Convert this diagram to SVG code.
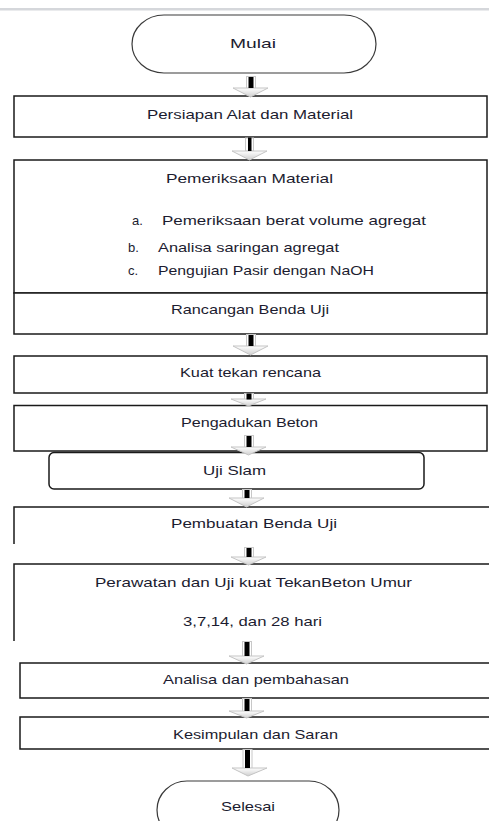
<svg xmlns="http://www.w3.org/2000/svg" width="489" height="821" viewBox="0 0 489 821">
<defs>
<linearGradient id="hg" x1="0" y1="0" x2="0" y2="1">
<stop offset="0" stop-color="#ffffff"/>
<stop offset="1" stop-color="#cfcfcf"/>
</linearGradient>
<style>
.box{fill:#fff;stroke:#1a1a1a;stroke-width:1.5}
.ln{fill:none;stroke:#1a1a1a;stroke-width:1.5}
.term{fill:#fff;stroke:#3a3a3a;stroke-width:1.2}
.t{font-family:"Liberation Sans",Arial,sans-serif;font-size:13px;fill:#1c1c30;text-anchor:middle}
.ts{font-family:"Liberation Sans",Arial,sans-serif;font-size:13px;fill:#1c1c30}
.shaft{fill:#000}
.sout{fill:none;stroke:#c8c8c8;stroke-width:1}
.head{fill:url(#hg);stroke:#c4c4c4;stroke-width:1}
</style>
</defs>
<rect x="0" y="0" width="489" height="821" fill="#fff"/>
<rect x="0" y="8" width="489" height="2.5" fill="#d5d7db"/>

<g id="mulai">
<rect class="term" x="132" y="15" width="244" height="58" rx="32" ry="29"/>
<text class="t" x="253" y="48" textLength="46" lengthAdjust="spacingAndGlyphs">Mulai</text>
</g>
<g id="persiapan">
<rect class="box" x="14" y="96" width="473" height="41"/>
<text class="t" x="250" y="119" textLength="206" lengthAdjust="spacingAndGlyphs">Persiapan Alat dan Material</text>
</g>
<g id="pemeriksaan">
<rect class="box" x="14" y="160" width="473" height="133"/>
<text class="t" x="249.5" y="183" textLength="167" lengthAdjust="spacingAndGlyphs">Pemeriksaan  Material</text>
<text class="ts" x="132" y="225">a.</text>
<text class="ts" x="162" y="225" textLength="264" lengthAdjust="spacingAndGlyphs">Pemeriksaan berat  volume agregat</text>
<text class="ts" x="128" y="252">b.</text>
<text class="ts" x="158" y="252" textLength="181" lengthAdjust="spacingAndGlyphs">Analisa saringan agregat</text>
<text class="ts" x="128" y="275">c.</text>
<text class="ts" x="158" y="275" textLength="216" lengthAdjust="spacingAndGlyphs">Pengujian Pasir dengan NaOH</text>
</g>
<g id="rancangan">
<rect class="box" x="14" y="293" width="473" height="41"/>
<text class="t" x="250" y="314" textLength="158" lengthAdjust="spacingAndGlyphs">Rancangan Benda Uji</text>
</g>
<g id="kuat">
<rect class="box" x="14" y="356" width="473" height="37"/>
<text class="t" x="250.5" y="377" textLength="141" lengthAdjust="spacingAndGlyphs">Kuat tekan rencana</text>
</g>
<g id="pengadukan">
<rect class="box" x="14" y="405.5" width="473" height="45.5"/>
<text class="t" x="249.5" y="427" textLength="137" lengthAdjust="spacingAndGlyphs">Pengadukan Beton</text>
</g>
<g id="ujislam">
<rect class="box" x="49" y="452.5" width="375" height="36.5" rx="5" ry="5"/>
<text class="t" x="234.5" y="475" textLength="63" lengthAdjust="spacingAndGlyphs">Uji Slam</text>
</g>
<g id="pembuatan">
<path class="ln" d="M14 544 V507 H490"/>
<text class="t" x="254" y="528" textLength="166" lengthAdjust="spacingAndGlyphs">Pembuatan  Benda Uji</text>
</g>
<g id="perawatan">
<path class="ln" d="M14 641 V564 H490"/>
<text class="t" x="253.5" y="587" textLength="317" lengthAdjust="spacingAndGlyphs">Perawatan  dan Uji kuat TekanBeton Umur</text>
<text class="t" x="252.5" y="626" textLength="139" lengthAdjust="spacingAndGlyphs">3,7,14, dan 28 hari</text>
</g>
<g id="analisa">
<path class="ln" d="M490 663 H20 V698 H490"/>
<text class="t" x="256" y="684" textLength="186" lengthAdjust="spacingAndGlyphs">Analisa dan pembahasan</text>
</g>
<g id="kesimpulan">
<path class="ln" d="M490 717 H20 V749 H490"/>
<text class="t" x="255.5" y="739" textLength="165" lengthAdjust="spacingAndGlyphs">Kesimpulan dan Saran</text>
</g>
<g id="selesai">
<rect class="term" x="157" y="781" width="182" height="58" rx="30" ry="29"/>
<text class="t" x="248" y="811" textLength="54" lengthAdjust="spacingAndGlyphs">Selesai</text>
</g>

<g id="connectors">
<g><rect class="sout" x="246.5" y="76.5" width="9" height="12"/><polygon class="head" points="233,88 268,88 250.5,97"/><rect class="shaft" x="248.5" y="77" width="5" height="11"/></g>
<g><rect class="sout" x="245.5" y="138" width="8" height="13"/><polygon class="head" points="232,151 267,151 249.5,160"/><rect class="shaft" x="248" y="137.5" width="3.5" height="13.5"/></g>
<g><rect class="sout" x="246.5" y="334.5" width="9" height="12"/><polygon class="head" points="233,346 268,346 250.5,355"/><rect class="shaft" x="248.5" y="335" width="5" height="11"/></g>
<g><rect class="sout" x="244.5" y="393.5" width="9" height="6"/><polygon class="head" points="231,399 266,399 248.5,406"/><rect class="shaft" x="246.5" y="393.5" width="5" height="6"/></g>
<g><rect class="sout" x="244.5" y="435.5" width="9" height="12"/><polygon class="head" points="231,447 266,447 248.5,455"/><rect class="shaft" x="246.5" y="436" width="5" height="11"/></g>
<g><rect class="sout" x="242.5" y="489.5" width="9" height="9"/><polygon class="head" points="229,498 264,498 246.5,507"/><rect class="shaft" x="244.5" y="490" width="5" height="8"/></g>
<g><rect class="sout" x="244.5" y="547.5" width="9" height="10"/><polygon class="head" points="231,557 266,557 248.5,565"/><rect class="shaft" x="246.5" y="548" width="5" height="9"/></g>
<g><rect class="sout" x="242.5" y="641.5" width="9" height="15"/><polygon class="head" points="229,656 264,656 246.5,664"/><rect class="shaft" x="244.5" y="642" width="5" height="14"/></g>
<g><rect class="sout" x="242.5" y="698.5" width="9" height="13"/><polygon class="head" points="229,711 264,711 246.5,718"/><rect class="shaft" x="244.5" y="699" width="5" height="12"/></g>
<g><rect class="sout" x="243" y="749.5" width="9" height="19"/><polygon class="head" points="232,768 267,768 248,776"/><rect class="shaft" x="245" y="750" width="5" height="18"/></g>
</g>
</svg>
